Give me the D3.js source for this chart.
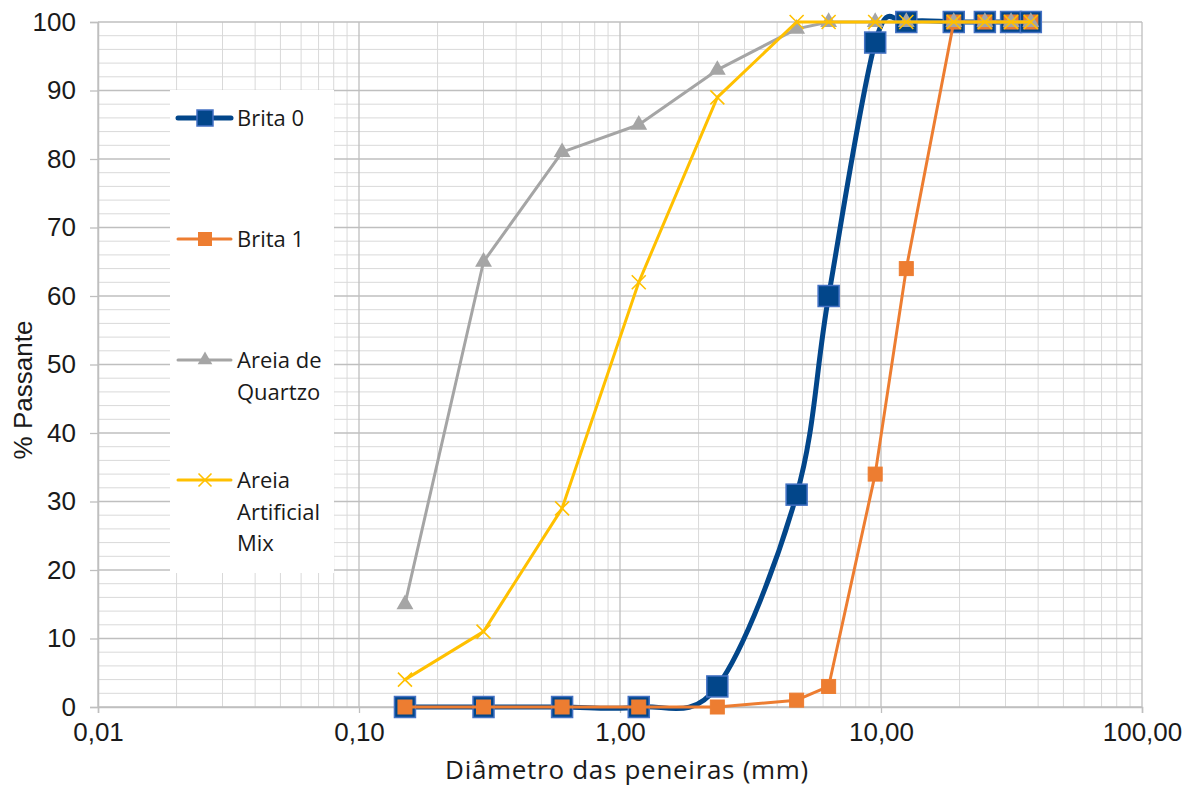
<!DOCTYPE html>
<html>
<head>
    <script src="https://cdn.jsdelivr.net/npm/d3@7"></script>
    <style>
        body { margin: 0; background: #fff; }
    </style>
</head>
<body>
<div id="chart"></div>

<script>

    var sieves = [0.15, 0.3, 0.6, 1.18, 2.36, 4.75, 6.3, 9.5, 12.5, 19, 25, 31.5, 37.5];

    var brita0 = [0, 0, 0, 0, 3, 31, 60, 97, 100, 100, 100, 100, 100];
    var brita1 = [0, 0, 0, 0, 0, 1, 3, 34, 64, 100, 100, 100, 100];
    var areiaQuartzo = [15, 65, 81, 85, 93, 99, 100, 100, 100, 100, 100, 100, 100];
    var areiaMix = [4, 11, 29, 62, 89, 100, 100, 100, 100, 100, 100, 100, 100];

    var seriesNames = ['Brita 0', 'Brita 1', 'Areia de Quartzo', 'Areia Artificial Mix'];
    var xTicks = [0.01, 0.1, 1, 10, 100];
    var yTicks = [0, 10, 20, 30, 40, 50, 60, 70, 80, 90, 100];

    var width = 1195;
    var height = 787;
    var margin = { top: 22, right: 53, bottom: 80, left: 98 };
    var innerW = width - margin.left - margin.right;
    var innerH = height - margin.top - margin.bottom;

    var svg = d3.select('#chart').append('svg')
        .attr('width', width)
        .attr('height', height);

    var g = svg.append('g')
        .attr('transform', 'translate(' + margin.left + ',' + margin.top + ')');

    var x = d3.scaleLog().domain([0.01, 100]).range([0, innerW]);
    var y = d3.scaleLinear().domain([0, 100]).range([innerH, 0]);

    // minor grid
    var minorX = [];
    xTicks.slice(0, -1).forEach(function(d) {
        for (var k = 2; k <= 9; k++) minorX.push(d * k);
    });
    var minorY = d3.range(0, 101, 2).filter(function(d) { return d % 10 !== 0; });

    g.selectAll('line.minor-x').data(minorX).enter().append('line')
        .attr('x1', function(d) { return x(d); }).attr('x2', function(d) { return x(d); })
        .attr('y1', 0).attr('y2', innerH)
        .attr('stroke', '#d9d9d9').attr('stroke-width', 1);

    g.selectAll('line.minor-y').data(minorY).enter().append('line')
        .attr('x1', 0).attr('x2', innerW)
        .attr('y1', function(d) { return y(d); }).attr('y2', function(d) { return y(d); })
        .attr('stroke', '#d9d9d9').attr('stroke-width', 1);

    // major grid
    g.selectAll('line.major-x').data(xTicks).enter().append('line')
        .attr('x1', function(d) { return x(d); }).attr('x2', function(d) { return x(d); })
        .attr('y1', 0).attr('y2', innerH)
        .attr('stroke', '#bfbfbf').attr('stroke-width', 1.3);

    g.selectAll('line.major-y').data(yTicks).enter().append('line')
        .attr('x1', 0).attr('x2', innerW)
        .attr('y1', function(d) { return y(d); }).attr('y2', function(d) { return y(d); })
        .attr('stroke', '#bfbfbf').attr('stroke-width', 1.3);

    // axes
    var fmt = function(d) { return d3.format('.2f')(d).replace('.', ','); };

    var xAxis = g.append('g')
        .attr('transform', 'translate(0,' + innerH + ')')
        .call(d3.axisBottom(x).tickValues(xTicks).tickFormat(fmt).tickSize(6).tickPadding(10));

    var yAxis = g.append('g')
        .call(d3.axisLeft(y).tickValues(yTicks).tickSize(8).tickPadding(14));

    [xAxis, yAxis].forEach(function(a) {
        a.select('.domain').attr('stroke', '#bfbfbf').attr('stroke-width', 1.5);
        a.selectAll('.tick line').attr('stroke', '#bfbfbf').attr('stroke-width', 1.3);
        a.selectAll('.tick text')
            .attr('font-family', 'Liberation Sans, Arial, sans-serif')
            .attr('font-size', 26)
            .attr('fill', '#1a1a1a');
    });

    svg.append('text')
        .attr('x', margin.left + innerW / 2 + 7)
        .attr('y', 779)
        .attr('text-anchor', 'middle')
        .attr('font-family', 'Open Sans, sans-serif')
        .attr('font-size', 26)
        .attr('letter-spacing', 0.7)
        .attr('fill', '#1a1a1a')
        .text('Diâmetro das peneiras (mm)');

    svg.append('text')
        .attr('transform', 'translate(32,' + 390 + ') rotate(-90)')
        .attr('text-anchor', 'middle')
        .attr('font-family', 'Liberation Sans, Arial, sans-serif')
        .attr('font-size', 26)
        .attr('fill', '#1a1a1a')
        .text('% Passante');

    // series
    var series = [
        { name: seriesNames[0], values: brita0, color: '#02468A', width: 5, curve: d3.curveCatmullRom.alpha(0), marker: 'bigsquare' },
        { name: seriesNames[1], values: brita1, color: '#ED7D31', width: 3, curve: d3.curveLinear, marker: 'square' },
        { name: seriesNames[2], values: areiaQuartzo, color: '#A5A5A5', width: 3, curve: d3.curveLinear, marker: 'triangle' },
        { name: seriesNames[3], values: areiaMix, color: '#FFC000', width: 3, curve: d3.curveLinear, marker: 'cross' }
    ];

    function drawMarker(sel, s, size) {
        if (s.marker === 'bigsquare') {
            sel.append('rect')
                .attr('x', -size / 2).attr('y', -size / 2)
                .attr('width', size).attr('height', size)
                .attr('fill', '#02468A').attr('stroke', '#4472C4').attr('stroke-width', 1.5);
        } else if (s.marker === 'square') {
            sel.append('rect')
                .attr('x', -size / 2).attr('y', -size / 2)
                .attr('width', size).attr('height', size)
                .attr('fill', '#ED7D31').attr('stroke', '#ED7D31').attr('stroke-width', 1);
        } else if (s.marker === 'triangle') {
            sel.append('path')
                .attr('d', d3.symbol().type(d3.symbolTriangle).size(size * size * 0.55)())
                .attr('fill', '#A5A5A5');
        } else {
            var h = size / 2;
            sel.append('path')
                .attr('d', 'M' + (-h) + ',' + (-h) + 'L' + h + ',' + h + 'M' + (-h) + ',' + h + 'L' + h + ',' + (-h))
                .attr('stroke', '#FFC000').attr('stroke-width', 1.6).attr('fill', 'none');
        }
    }

    var markerSize = { bigsquare: 21, square: 14, triangle: 15, cross: 14 };

    series.forEach(function(s) {
        var pts = sieves.map(function(d, i) { return [x(d), y(s.values[i])]; });
        var line = d3.line().curve(s.curve);
        g.append('path')
            .attr('d', line(pts))
            .attr('fill', 'none')
            .attr('stroke', s.color)
            .attr('stroke-width', s.width)
            .attr('stroke-linejoin', 'round')
            .attr('stroke-linecap', 'round');

        g.selectAll(null).data(pts).enter().append('g')
            .attr('transform', function(d) { return 'translate(' + d[0] + ',' + d[1] + ')'; })
            .each(function() { drawMarker(d3.select(this), s, markerSize[s.marker]); });
    });

    // legend
    var legend = svg.append('g').attr('class', 'legend');
    legend.append('rect')
        .attr('x', 170).attr('y', 90)
        .attr('width', 164).attr('height', 483)
        .attr('fill', '#ffffff');

    var legendY = [118, 239, 360, 480];
    var legendLines = [['Brita 0'], ['Brita 1'], ['Areia de', 'Quartzo'], ['Areia', 'Artificial', 'Mix']];
    var legendMarkerSize = { bigsquare: 16, square: 13, triangle: 13, cross: 13 };

    series.forEach(function(s, i) {
        var e = legend.append('g').attr('transform', 'translate(0,' + legendY[i] + ')');
        e.append('line')
            .attr('x1', 178).attr('x2', 231)
            .attr('stroke', s.color).attr('stroke-width', s.width)
            .attr('stroke-linecap', 'round');
        var m = e.append('g').attr('transform', 'translate(205,0)');
        drawMarker(m, s, legendMarkerSize[s.marker]);
        var t = e.append('text')
            .attr('x', 237)
            .attr('y', 8)
            .attr('font-family', 'Open Sans, sans-serif')
            .attr('font-size', 22)
            .attr('fill', '#1a1a1a');
        legendLines[i].forEach(function(l, j) {
            t.append('tspan').attr('x', 237).attr('dy', j === 0 ? 0 : 31.5).text(l);
        });
    });

</script>
</body>
</html>
